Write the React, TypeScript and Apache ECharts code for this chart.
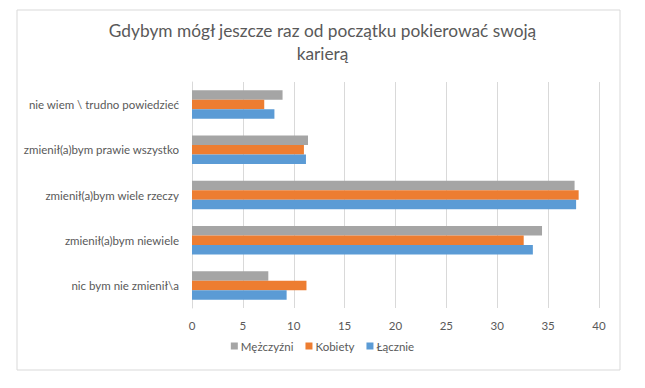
import React, { useEffect, useRef } from "react";
import * as echarts from "echarts";

const categories = [
  "nic bym nie zmienił\\a",
  "zmienił(a)bym niewiele",
  "zmienił(a)bym wiele rzeczy",
  "zmienił(a)bym prawie wszystko",
  "nie wiem \\ trudno powiedzieć",
];
const lacznie = [9.3, 33.5, 37.75, 11.2, 8.1];
const kobiety = [11.25, 32.6, 38.0, 11.0, 7.1];
const mezczyzni = [7.5, 34.4, 37.6, 11.4, 8.9];
const xTicks = { min: 0, max: 40, interval: 5 };
const titleText = "Gdybym mógł jeszcze raz od początku pokierować swoją\nkarierą";

const FONT = "Lato";
const TEXT = "#595959";

export default function App() {
  const ref = useRef<HTMLDivElement>(null);
  useEffect(() => {
    document.body.style.margin = "0";
    const chart = echarts.init(ref.current!, null, { renderer: "svg" });
    chart.setOption({
      animation: false,
      backgroundColor: "#ffffff",
      textStyle: { fontFamily: FONT, color: TEXT },
      title: {
        text: titleText,
        left: "center",
        top: 14,
        textStyle: {
          fontFamily: FONT,
          fontSize: 17.3,
          fontWeight: "normal",
          color: TEXT,
          lineHeight: 23,
        },
      },
      graphic: [
        {
          type: "rect",
          shape: { x: 17, y: 10, width: 603, height: 360 },
          style: { fill: "none", stroke: "#d9d9d9", lineWidth: 1 },
          silent: true,
        },
      ],
      legend: {
        data: ["Mężczyźni", "Kobiety", "Łącznie"],
        bottom: 31,
        left: "center",
        icon: "rect",
        itemWidth: 7,
        itemHeight: 7,
        itemGap: 12,
        textStyle: { fontFamily: FONT, fontSize: 11.5, color: TEXT, padding: [0, 0, 0, -2] },
      },
      grid: { left: 192, right: 46, top: 82, bottom: 80 },
      xAxis: {
        type: "value",
        min: xTicks.min,
        max: xTicks.max,
        interval: xTicks.interval,
        axisLine: { show: false },
        axisTick: { show: false },
        axisLabel: { fontFamily: FONT, fontSize: 11.5, color: TEXT, margin: 11 },
        splitLine: { lineStyle: { color: "#d9d9d9", width: 1 } },
      },
      yAxis: {
        type: "category",
        data: categories,
        axisLine: { show: true, lineStyle: { color: "#d9d9d9" } },
        axisTick: { show: false },
        axisLabel: { fontFamily: FONT, fontSize: 11.5, color: TEXT, margin: 13 },
      },
      series: [
        {
          name: "Mężczyźni",
          type: "bar",
          data: mezczyzni,
          itemStyle: { color: "#A5A5A5" },
          barGap: "0%",
          barCategoryGap: "37%",
        },
        {
          name: "Kobiety",
          type: "bar",
          data: kobiety,
          itemStyle: { color: "#ED7D31" },
          barGap: "0%",
          barCategoryGap: "37%",
        },
        {
          name: "Łącznie",
          type: "bar",
          data: lacznie,
          itemStyle: { color: "#5B9BD5" },
          barGap: "0%",
          barCategoryGap: "37%",
        },
      ],
    });
    return () => chart.dispose();
  }, []);
  return <div ref={ref} style={{ width: 645, height: 388, position: "absolute", left: 0, top: 0 }} />;
}
